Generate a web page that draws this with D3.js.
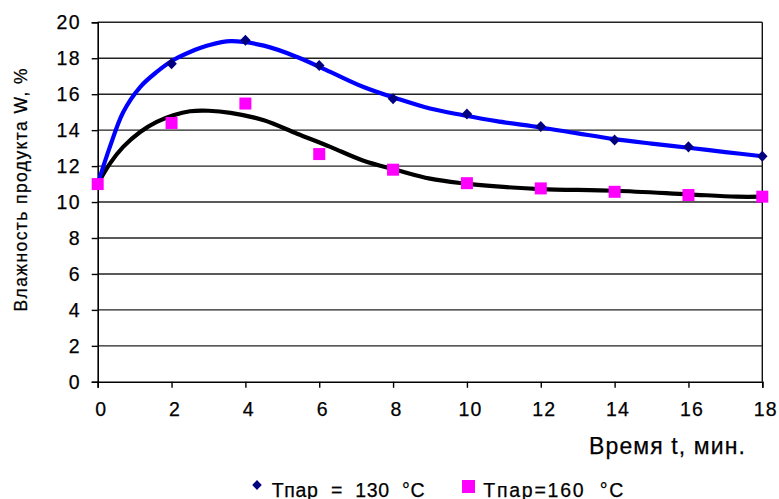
<!DOCTYPE html>
<html><head><meta charset="utf-8">
<script src="https://cdn.jsdelivr.net/npm/d3@7"></script>
<style>body{margin:0;background:#fff}text{font-family:"Liberation Sans",Arial,sans-serif;fill:#000;stroke:#000;stroke-width:0.25px}</style>
</head><body><svg id="c" width="779" height="499"></svg>
<script>
const xTicks=[0,2,4,6,8,10,12,14,16,18];
const yTicks=[0,2,4,6,8,10,12,14,16,18,20];
const times=[0,2,4,6,8,10,12,14,16,18];
const w130=[11.0,17.7,19.0,17.6,15.75,14.9,14.2,13.45,13.07,12.55];
const w160=[11.0,14.4,15.48,12.67,11.8,11.05,10.76,10.57,10.39,10.3];
const trendT130=[0,0.33,0.69,1.15,1.6,2.05,2.5,3,3.6,4.5,5.4,6.3,7.2,8.1,9,9.9,10.8,12,13,14,15,16,17,18];
const trend130=[11.0,13.07,15.0,16.4,17.24,17.9,18.35,18.72,18.95,18.7,18.07,17.24,16.4,15.76,15.2,14.83,14.5,14.15,13.82,13.5,13.25,13.02,12.78,12.55];
const trendT160=[0,0.33,0.69,1.15,1.6,2.05,2.5,3,3.6,4.5,5.4,6.3,7.2,8.1,9,9.9,10.8,12,14,16,17.3,18];
const trend160=[11.0,12.14,13.07,13.9,14.46,14.83,15.05,15.08,14.96,14.55,13.8,13.07,12.3,11.78,11.3,11.04,10.87,10.72,10.63,10.43,10.3,10.3];
const legendLabels=["Tпар  =  130  °C","Tпар=160  °C"];
const xTitle="Время t, мин.";
const yTitle="Влажность продукта W, %";

const svg=d3.select("#c");
const L=97.7,R=762.3,T=22.3,B=381.8;
const x=d3.scaleLinear().domain([0,18]).range([L,R]);
const y=d3.scaleLinear().domain([0,20]).range([B,T]);

svg.append("g").selectAll("line").data(yTicks.filter(d=>d>0)).join("line")
 .attr("x1",L).attr("x2",R).attr("y1",d=>y(d)).attr("y2",d=>y(d))
 .attr("stroke","#222").attr("stroke-width",1.4);
svg.append("line").attr("x1",R).attr("x2",R).attr("y1",T).attr("y2",B).attr("stroke","#111").attr("stroke-width",1.4);

const xa=svg.append("g").attr("transform",`translate(0,${B})`)
 .call(d3.axisBottom(x).tickValues(xTicks).tickSize(6).tickPadding(14).tickFormat(d3.format("d")));
const ya=svg.append("g").attr("transform",`translate(${L},0)`)
 .call(d3.axisLeft(y).tickValues(yTicks).tickSize(6).tickPadding(11).tickFormat(d3.format("d")));
[xa,ya].forEach(a=>{a.select(".domain").attr("stroke","#000").attr("stroke-width",1.6);
 a.selectAll(".tick line").attr("stroke","#000").attr("stroke-width",1.4);
 a.selectAll(".tick text").style("font-size","19.5px").style("letter-spacing","1.2px").attr("fill","#000");});
xa.selectAll(".tick text").attr("dx",3);

const line=d3.line().curve(d3.curveCatmullRom.alpha(0.5));
svg.append("path").attr("d",line(trendT160.map((t,i)=>[x(t),y(trend160[i])])))
 .attr("fill","none").attr("stroke","#000").attr("stroke-width",4.2);
svg.append("path").attr("d",line(trendT130.map((t,i)=>[x(t),y(trend130[i])])))
 .attr("fill","none").attr("stroke","#0000ff").attr("stroke-width",4.2);

const diamond={draw(ctx,size){const r=Math.sqrt(size/2);ctx.moveTo(0,-r*1.05);ctx.lineTo(r,0);ctx.lineTo(0,r*1.05);ctx.lineTo(-r,0);ctx.closePath();}};
svg.append("g").selectAll("path").data(times).join("path")
 .attr("d",d3.symbol().type(diamond).size(56)).attr("transform",(t,i)=>`translate(${x(t)},${y(w130[i])})`).attr("fill","#000080");
svg.append("g").selectAll("rect").data(times).join("rect")
 .attr("x",t=>x(t)-6).attr("y",(t,i)=>y(w160[i])-6).attr("width",12).attr("height",12).attr("fill","#ff00ff");

svg.append("text").attr("x",589).attr("y",454).style("font-size","23px")
 .attr("textLength",156).attr("lengthAdjust","spacing").text(xTitle);
svg.append("text").attr("transform","translate(27,190) rotate(-90)").attr("text-anchor","middle").style("font-size","17.5px")
 .attr("textLength",243).attr("lengthAdjust","spacing").text(yTitle);

const lg=svg.append("g");
lg.append("path").attr("d",d3.symbol().type(diamond).size(45)).attr("transform","translate(257,485)").attr("fill","#000080");
lg.append("text").attr("x",271.7).attr("y",496.5).style("font-size","19.5px").attr("xml:space","preserve").style("white-space","pre")
 .attr("textLength",153).attr("lengthAdjust","spacing").text(legendLabels[0]);
lg.append("rect").attr("x",462).attr("y",480).attr("width",13).attr("height",13).attr("fill","#ff00ff");
lg.append("text").attr("x",483.3).attr("y",496.5).style("font-size","19.5px").attr("xml:space","preserve").style("white-space","pre")
 .attr("textLength",140).attr("lengthAdjust","spacing").text(legendLabels[1]);
</script></body></html>
